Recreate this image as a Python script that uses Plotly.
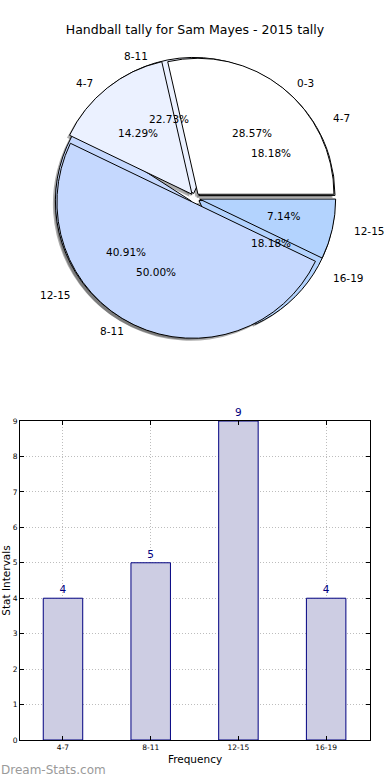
import numpy as np
import plotly.graph_objects as go

# ---------------- data ----------------
chart_title = "Handball tally for Sam Mayes - 2015 tally"
pie1_labels = ["0-3", "4-7", "8-11", "12-15"]
pie1_values = [4, 2, 7, 1]
pie2_labels = ["4-7", "8-11", "12-15", "16-19"]
pie2_values = [4, 5, 9, 4]
bar_categories = ["4-7", "8-11", "12-15", "16-19"]
bar_values = [4, 5, 9, 4]
y_tick_values = list(range(0, 10))
x_axis_title = "Frequency"
y_axis_title = "Stat Intervals"
watermark = "Dream-Stats.com"

# ---------------- style / layout constants ----------------
W, H = 390, 780
FONT = "DejaVu Sans"
slice_colors = ["#ffffff", "#ebf1ff", "#c5d8fe", "#b3d3fe"]
CX, CY = 195.0, 198.0      # pie centre (px)
R = 136.0                  # drawn pie radius (px)
RX, RY = 143.0, 130.0      # text placement radii (px)
PULL = 0.035
SHADOW_DX, SHADOW_DY = -2.5, 2.5
GRID_DASH = "1px,2px"


def pie_domain(dx=0.0, dy=0.0):
    half = R * (1 + PULL)
    cx, cy = CX + dx, CY + dy
    return dict(x=[(cx - half) / W, (cx + half) / W],
                y=[1 - (cy + half) / H, 1 - (cy - half) / H])


def make_pie(labels, values, colors, dom, line=True, name=""):
    # plotly: with counterclockwise direction the first slice lies clockwise of
    # `rotation`; start the first slice at 3 o'clock going counterclockwise.
    first_angle = 360.0 * values[0] / float(sum(values))
    return go.Pie(
        labels=labels, values=values, sort=False,
        direction="counterclockwise", rotation=90 - first_angle,
        pull=[PULL] * len(values),
        marker=dict(colors=colors,
                    line=dict(color="black" if line else "rgba(0,0,0,0)",
                              width=1 if line else 0)),
        textinfo="none", hoverinfo="label+percent", showlegend=False,
        domain=dom, name=name,
    )


fig = go.Figure()
shadow_col = ["rgba(50,50,50,0.4)"] * 4
fig.add_trace(make_pie(pie2_labels, pie2_values, shadow_col,
                       pie_domain(SHADOW_DX, SHADOW_DY), line=False, name="shadow2"))
fig.add_trace(make_pie(pie1_labels, pie1_values, shadow_col,
                       pie_domain(SHADOW_DX, SHADOW_DY), line=False, name="shadow1"))
fig.add_trace(make_pie(pie2_labels, pie2_values, slice_colors, pie_domain(), name="2015 b"))
fig.add_trace(make_pie(pie1_labels, pie1_values, slice_colors, pie_domain(), name="2015 a"))

annotations = []


def add_pie_texts(labels, values):
    vals = np.array(values, dtype=float)
    total = vals.sum()
    start = 0.0
    for lab, v in zip(labels, vals):
        span = 360.0 * v / total
        mid = np.deg2rad(start + span / 2)
        start += span
        c, s = np.cos(mid), np.sin(mid)
        lx = CX + (1.1 + PULL) * RX * c
        ly = CY - (1.1 + PULL) * RY * s
        annotations.append(dict(
            x=lx / W, y=1 - ly / H, xref="paper", yref="paper", text=lab,
            showarrow=False, xanchor="left" if c > 0 else "right", yanchor="middle",
            borderpad=0, font=dict(family=FONT, size=10.5, color="black")))
        px_ = CX + (0.6 + PULL) * RX * c
        py_ = CY - (0.6 + PULL) * RY * s
        annotations.append(dict(
            x=px_ / W, y=1 - py_ / H, xref="paper", yref="paper",
            text="%.2f%%" % (100 * v / total),
            showarrow=False, xanchor="center", yanchor="middle",
            borderpad=0, font=dict(family=FONT, size=10.5, color="black")))


add_pie_texts(pie2_labels, pie2_values)
add_pie_texts(pie1_labels, pie1_values)

# ---------------- bar chart ----------------
fig.add_trace(go.Bar(
    x=bar_categories, y=bar_values, width=0.45,
    marker=dict(color="#cdcde3", line=dict(color="#000080", width=1)),
    text=bar_values, textposition="outside", constraintext="none",
    textfont=dict(family=FONT, size=10.5, color="#000080"),
    cliponaxis=False, showlegend=False, xaxis="x", yaxis="y",
))

annotations.append(dict(
    x=0, y=1 - 770 / H, xref="paper", yref="paper", text=watermark,
    showarrow=False, xanchor="left", yanchor="middle", borderpad=0,
    font=dict(family=FONT, size=12, color="#9a9a9a")))

fig.update_layout(
    width=W, height=H,
    margin=dict(l=0, r=0, t=0, b=0),
    paper_bgcolor="white", plot_bgcolor="white",
    font=dict(family=FONT, color="black"),
    title=dict(text=chart_title, x=0.5, xanchor="center", y=1 - 30 / H, yanchor="middle",
               font=dict(family=FONT, size=12.5, color="black")),
    annotations=annotations,
    xaxis=dict(
        domain=[20 / W, 370 / W], anchor="y", type="category",
        range=[-0.49, 3.5], showline=True, linecolor="black", linewidth=1,
        mirror="ticks", ticks="inside", ticklen=4, tickcolor="black",
        showgrid=True, gridcolor="#bdbdbd", griddash=GRID_DASH, gridwidth=1,
        tickfont=dict(family=FONT, size=7.5, color="black"),
        title=dict(text=x_axis_title, font=dict(family=FONT, size=10.5), standoff=4),
        automargin=False, zeroline=False,
    ),
    yaxis=dict(
        domain=[1 - 740 / H, 1 - 421 / H], anchor="x",
        range=[0, 9], tickvals=y_tick_values, showline=True, linecolor="black", linewidth=1,
        mirror="ticks", ticks="inside", ticklen=4, tickcolor="black",
        showgrid=True, gridcolor="#bdbdbd", griddash=GRID_DASH, gridwidth=1,
        tickfont=dict(family=FONT, size=7.5, color="black"),
        title=dict(text=y_axis_title, font=dict(family=FONT, size=10.5), standoff=0),
        automargin=False, zeroline=False,
    ),
)

fig.write_html("out.html",
               config={"displayModeBar": False},
               post_script="document.body.style.margin='0';document.body.style.padding='0';")
